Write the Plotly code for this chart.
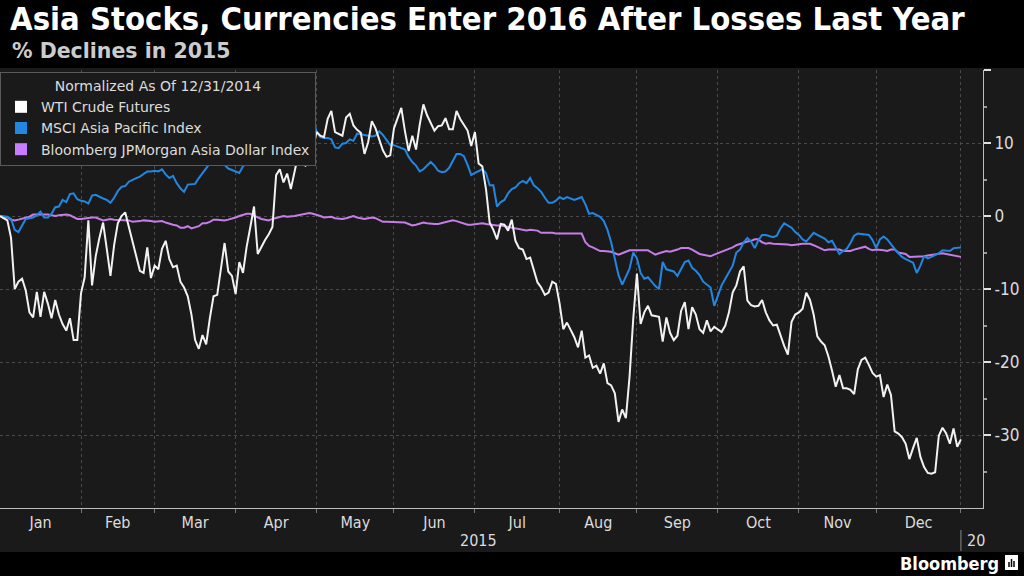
import pandas as pd
import plotly.graph_objects as go

# ---------------- data (normalized % change vs 12/31/2014, one value per weekday) ----------------
dates = pd.bdate_range("2014-12-31", "2015-12-31")

wti = [0, -0.3, -0.6, -3, -10, -9, -8.6, -10.2, -13.2, -13.9,
       -10.4, -13.8, -10.4, -12, -14, -11.5, -13.5, -14.8, -15.7, -14,
       -17, -17, -10.6, -8.4, -0.6, -9.5, -5.5, -3, -0.9, -4.5,
       -8.2, -4, -1, 0, 0.5, -1.5, -3.4, -5.5, -7.5, -7.8,
       -4.3, -8.5, -6.8, -7.3, -4.5, -3.4, -5.9, -7, -6.8, -9,
       -9.8, -11, -13.5, -17, -18.2, -16.3, -17.6, -14, -11, -10.8,
       -7, -3.7, -7.6, -8.2, -10.7, -6.3, -7.8, -4.2, -1.5, 1.3,
       -5.2, -4.2, -3.3, -2.5, -1.5, 5.6, 6.4, 4.6, 5.8, 3.7,
       6, 8.4, 7.2, 6.9, 7.5, 9.7, 11.5, 11, 10.8, 13.3,
       14.4, 11.5, 11.2, 11, 13.5, 14, 12.4, 11.8, 11.4, 8.5,
       10.1, 13, 12, 10.5, 9, 8.1, 8.3, 12, 13.5, 14.8,
       11.6, 8.9, 11, 9.1, 12.5, 15.3, 13.8, 12.8, 11.7, 12.3,
       12.4, 13.4, 11.9, 11.9, 14.4, 13.3, 12.4, 11.7, 9.6, 11.5,
       7.2, 6.8, 3.7, -0.9, -1.9, -3.2, -1.1, -1.2, -2, -0.5,
       -3.4, -4.4, -4.6, -5.9, -5.7, -7.5, -9.1, -9.8, -10.8, -10.5,
       -9, -9.3, -12, -15.5, -14.6, -15.6, -16.6, -18, -15.7, -19.4,
       -19.1, -20.8, -20.5, -21.6, -20.2, -22.9, -23.2, -24.3, -28.2, -26.5,
       -27.7, -22, -14.1, -7.9, -14.8, -13.2, -12.3, -13.6, -13.7, -13.8,
       -17.2, -13.9, -16, -17, -16.4, -13, -11.8, -15.5, -12.5, -13.5,
       -15.5, -16, -14.3, -15.8, -15.2, -15.5, -15.9, -15, -13.2, -10.5,
       -9.5, -7.6, -6.9, -11.6, -12.2, -12.4, -12.3, -11.5, -13.2, -14.3,
       -15, -14.9, -16.5, -17.8, -19, -14.5, -13.5, -13.2, -12.7, -10.5,
       -11.5, -13.5, -16.5, -17.2, -17.7, -19.2, -21.2, -23.4, -21.8, -23.6,
       -23.6, -23.8, -24.4, -21, -19.7, -19.4, -20.4, -21.5, -22, -21.8,
       -24.8, -23.1, -24.5, -29.5, -29.8, -30.3, -31.2, -33.3, -31.8, -30.4,
       -33, -34.4, -35.2, -35.3, -35.1, -30.1, -29, -29.8, -31.2, -29.1,
       -31.6, -30.6]

msci = [0, 0, -0.1, -0.4, -1.9, -2.2, -1.2, -0.4, -0.3, -0.2,
        0.1, 0.6, -0.2, -0.2, 0.3, 1.2, 1.3, 2.2, 1.9, 3.0,
        3.1, 2.3, 2.1, 2.0, 1.7, 2.8, 2.9, 2.6, 2.4, 2.2,
        1.8, 2.5, 3.4, 4.0, 4.1, 4.7, 5.0, 5.2, 5.4, 5.8,
        6.1, 6.1, 6.2, 6.1, 6.4, 5.7, 5.2, 5.5, 4.5, 3.8,
        3.3, 4.3, 4.4, 4.4, 5.2, 5.9, 6.5, 7.2, 7.8, 8.0,
        8.1, 7.0, 6.5, 6.3, 6.1, 5.9, 6.8, 7.3, 7.6, 8.1,
        8.8, 9.8, 10.5, 10.8, 11.2, 11.8, 12.3, 12.0, 12.6, 13.0,
        12.8, 13.4, 13.8, 14.2, 14.0, 13.5, 11.5, 10.8, 10.7, 10.7,
        10.5, 9.4, 9.3, 9.9, 10.0, 10.5, 10.3, 11.3, 11.2, 11.1,
        10.9, 10.9, 11.0, 11.6, 11.1, 10.4, 9.7, 9.7, 9.5, 9.3,
        9.1, 8.1, 7.4, 6.9, 6.1, 6.4, 6.9, 7.4, 6.9, 6.2,
        6.0, 6.1, 6.6, 7.5, 8.5, 8.5, 8.2, 7.0, 5.6, 5.9,
        6.2, 6.4, 5.9, 4.2, 4.2, 1.3, 1.9, 2.2, 3.1, 3.7,
        3.9, 4.5, 4.8, 4.5, 5.2, 4.2, 3.8, 3.3, 2.5, 1.8,
        1.8, 2.1, 2.6, 2.3, 2.6, 2.4, 2.2, 2.4, 2.6, 1.6,
        0.3, 0.4, 0.1, -0.1, -0.7, -1.9, -3.6, -6.0, -8.1, -9.4,
        -8.4, -7.2, -5.0, -5.8, -7.8, -8.6, -8.4, -9.0, -9.6, -10.0,
        -6.3, -7.3, -7.5, -7.6, -8.2, -7.2, -6.3, -6.1, -7.1, -7.5,
        -8.1, -9.0, -9.4, -9.8, -12.3, -10.8, -9.5, -8.6, -7.6, -6.8,
        -5.0, -4.6, -3.6, -3.0, -3.5, -4.4, -3.3, -2.6, -2.6, -2.7,
        -2.9, -2.7, -1.7, -1.0, -1.3, -1.6, -2.2, -2.6, -3.2, -3.5,
        -2.9, -2.3, -2.6, -2.9, -3.1, -3.6, -3.4, -4.3, -5.2, -4.8,
        -4.5, -3.7, -2.7, -2.4, -2.5, -2.5, -2.6, -3.3, -4.4, -3.2,
        -2.8, -3.2, -3.9, -4.5, -5.1, -5.6, -5.9, -6.1, -6.4, -7.8,
        -6.8, -5.5, -5.8, -5.6, -5.4, -5.1, -4.7, -4.7, -4.8, -4.4,
        -4.4, -4.3]

adxy = [0, -0.1, -0.2, -0.5, -0.6, -0.5, -0.4, -0.2, -0.1, 0.2,
        0.2, 0.3, 0.3, 0.2, 0.1, 0.0, 0.1, 0.2, 0.2, 0.1,
        -0.1, -0.4, -0.4, -0.3, -0.3, -0.2, -0.2, -0.4, -0.6, -0.5,
        -0.4, -0.5, -0.5, -0.5, -0.5, -0.6, -0.8, -0.8, -0.7, -0.6,
        -0.6, -0.7, -0.8, -0.8, -0.7, -0.9, -1.1, -1.2, -1.3, -1.6,
        -1.6, -1.4, -1.7, -1.6, -1.4, -1.0, -1.0, -0.8, -0.5, -0.5,
        -0.6, -0.6, -0.5, -0.4, -0.2, 0.0, 0.2, 0.3, 0.3, 0.0,
        -0.2, -0.4, -0.5, -0.6, -0.4, -0.3, -0.1, 0.0, -0.1, -0.1,
        0.0, 0.1, 0.2, 0.3, 0.4, 0.3, 0.2, 0.0, -0.2, -0.1,
        -0.1, -0.3, -0.4, -0.4, -0.3, -0.1, 0.0, -0.2, -0.3, -0.4,
        -0.3, -0.2, -0.3, -0.5, -0.8, -0.8, -0.8, -0.9, -0.9, -0.8,
        -0.9, -1.1, -1.3, -1.2, -1.1, -0.9, -1.0, -1.1, -1.1, -1.1,
        -1.0, -0.8, -0.7, -0.6, -0.7, -0.9, -1.0, -1.2, -1.2, -1.1,
        -1.1, -1.0, -1.1, -1.2, -1.3, -1.3, -1.3, -1.4, -1.4, -1.6,
        -1.7, -1.8, -1.8, -2.0, -1.9, -1.9, -2.0, -2.3, -2.3, -2.2,
        -2.3, -2.4, -2.4, -2.4, -2.4, -2.4, -2.5, -2.5, -2.4, -3.6,
        -4.1, -4.3, -4.5, -4.8, -4.8, -4.8, -4.9, -5.1, -5.3, -5.1,
        -4.9, -4.7, -4.7, -4.7, -4.7, -4.7, -4.7, -5.0, -5.3, -5.1,
        -4.9, -4.8, -4.9, -4.8, -4.6, -4.4, -4.4, -4.4, -4.6, -4.9,
        -5.2, -5.3, -5.4, -5.5, -5.3, -5.1, -5.0, -4.8, -4.6, -4.3,
        -4.0, -3.8, -3.6, -3.5, -3.4, -3.2, -3.2, -3.6, -3.8, -3.7,
        -3.8, -3.8, -3.8, -3.8, -3.9, -4.0, -3.9, -3.9, -3.8, -3.8,
        -3.8, -4.0, -4.2, -4.5, -4.7, -4.6, -4.6, -4.5, -4.6, -4.8,
        -4.8, -4.8, -4.6, -4.5, -4.3, -4.2, -4.5, -4.7, -4.6, -4.6,
        -4.7, -4.8, -4.6, -4.6, -5.0, -5.1, -5.2, -5.6, -5.6, -5.5,
        -5.5, -5.5, -5.4, -5.3, -5.3, -5.2, -5.1, -5.2, -5.3, -5.4,
        -5.6, -5.6]

series_names = ["WTI Crude Futures", "MSCI Asia Pacific Index",
                "Bloomberg JPMorgan Asia Dollar Index"]
series_colors = ["#f2f2f2", "#2287e3", "#c77de8"]
legend_colors = ["#ffffff", "#2287e3", "#c77dff"]
month_labels = ["Jan", "Feb", "Mar", "Apr", "May", "Jun",
                "Jul", "Aug", "Sep", "Oct", "Nov", "Dec"]
year_labels = ["2015", "20"]
y_ticks = [-30, -20, -10, 0, 10, 20]
y_ticktext = ["-30", "-20", "-10", "0", "10", ""]
y_minor = [-35, -25, -15, -5, 5, 15]
title_text = "Asia Stocks, Currencies Enter 2016 After Losses Last Year"
subtitle_text = "% Declines in 2015"
legend_title = "Normalized As Of 12/31/2014"

FONT = "DejaVu Sans Condensed, Liberation Sans Narrow, DejaVu Sans, sans-serif"
WIDE = "DejaVu Sans, Verdana, sans-serif"
BG = "#1a1a1a"
GRID = "#4a4a4a"
TXT = "#dcdcdc"

# ---------------- month boundaries (last weekday of each month) ----------------
pos = pd.Series(range(len(dates)), index=dates)
last_idx = list(pos.groupby([dates.year, dates.month]).max().values)
bound_dates = [dates[k] for k in last_idx]
mid_dates = []
for a, b in zip(last_idx[:-1], last_idx[1:]):
    m = (a + b) / 2
    d = dates[int(m)]
    if m % 1:
        d = d + pd.Timedelta(hours=12)
    mid_dates.append(d)
fmt = lambda d: d.strftime("%Y-%m-%d %H:%M")

fig = go.Figure()
values = [wti, msci, adxy]
for k in [2, 1, 0]:
    fig.add_trace(go.Scatter(x=dates, y=values[k], mode="lines",
                             line=dict(color=series_colors[k], width=2),
                             name=series_names[k], showlegend=False,
                             hoverinfo="skip"))
for k in range(3):
    fig.add_trace(go.Scatter(x=[None], y=[None], mode="markers",
                             marker=dict(symbol="square", size=12, color=legend_colors[k]),
                             name=series_names[k], showlegend=True))

W, H = 1024, 576
L, R, T, B = 0, 41, 70, 68
ph = H - T - B
pw = W - L - R
py = lambda px: (H - B - px) / ph      # pixel row -> paper y
pxx = lambda px: (px - L) / pw         # pixel col -> paper x

fig.update_layout(
    width=W, height=H,
    margin=dict(l=L, r=R, t=T, b=B, pad=0),
    paper_bgcolor="#000000",
    plot_bgcolor=BG,
    font=dict(family=FONT, color=TXT, size=14),
    hovermode=False,
    title=dict(text="<b>" + title_text + "</b>", x=10 / W, xref="container",
               xanchor="left", y=1 - 19 / H, yref="container", yanchor="middle",
               font=dict(size=32.5, color="#ffffff", family=FONT)),
    showlegend=True,
    legend=dict(x=0, y=py(72), xanchor="left", yanchor="top",
                bgcolor=BG, bordercolor="#5a5a5a", borderwidth=1,
                font=dict(size=14, color=TXT, family=WIDE),
                title=dict(text=legend_title, side="top center",
                           font=dict(size=14, color=TXT, family=WIDE)),
                itemwidth=30, tracegroupgap=0, traceorder="normal"),
    xaxis=dict(type="date", range=["2014-12-31", "2016-01-08"],
               rangebreaks=[dict(bounds=["sat", "mon"])],
               tickmode="array", tickvals=[fmt(d) for d in mid_dates],
               ticktext=month_labels, ticks="", showgrid=False,
               tickfont=dict(size=16, color=TXT),
               showline=True, linecolor="#bdbdbd", linewidth=1,
               zeroline=False, fixedrange=True,
               minor=dict(tickmode="array", tickvals=[fmt(d) for d in bound_dates[1:]],
                          showgrid=True, gridcolor=GRID, griddash="dot", gridwidth=1,
                          ticks="outside", ticklen=4, tickcolor="#777")),
    yaxis=dict(side="right", range=[-40, 20], tickmode="array",
               tickvals=y_ticks, ticktext=y_ticktext,
               showgrid=True, gridcolor=GRID, griddash="dot", gridwidth=1,
               zeroline=False, showline=True, linecolor="#bdbdbd", linewidth=1,
               ticks="outside", ticklen=7, tickwidth=2, tickcolor="#e0e0e0",
               tickfont=dict(size=17, color=TXT), fixedrange=True,
               minor=dict(tickmode="array", tickvals=y_minor, ticks="outside",
                          ticklen=3, tickcolor="#9a9a9a", showgrid=False)),
)

# dark panel behind plot + axis labels
fig.add_shape(type="rect", xref="paper", yref="paper", x0=pxx(0), x1=pxx(W),
              y0=py(552), y1=py(68), fillcolor=BG, line=dict(width=0), layer="below")
# year separator
fig.add_shape(type="line", xref="x", yref="paper", x0=fmt(bound_dates[-1]),
              x1=fmt(bound_dates[-1]), y0=py(530), y1=py(551),
              line=dict(color="#8a8a8a", width=1))

fig.add_annotation(text="<b>" + subtitle_text + "</b>", xref="paper", yref="paper",
                   x=pxx(10), y=py(51), xanchor="left", yanchor="middle",
                   showarrow=False, font=dict(size=20.5, color="#cccccc", family=WIDE))
fig.add_annotation(text=year_labels[0], xref="x", yref="paper",
                   x="2015-07-01", y=py(540), xanchor="center", yanchor="middle",
                   showarrow=False, font=dict(size=16, color=TXT))
fig.add_annotation(text=year_labels[1], xref="x", yref="paper",
                   x="2016-01-01", y=py(540), xanchor="left", yanchor="middle",
                   showarrow=False, font=dict(size=16, color=TXT))
fig.add_annotation(text="<b>Bloomberg</b>", xref="paper", yref="paper",
                   x=pxx(1001), y=py(563), xanchor="right", yanchor="middle",
                   showarrow=False, font=dict(size=18, color="#ffffff", family=FONT))
# logo glyph
fig.add_shape(type="rect", xref="paper", yref="paper", x0=pxx(1005), x1=pxx(1018),
              y0=py(570), y1=py(555), fillcolor="#ffffff", line=dict(width=0))
for bx, top in [(1009, 562), (1011.5, 559), (1014, 561)]:
    fig.add_shape(type="line", xref="paper", yref="paper", x0=pxx(bx), x1=pxx(bx),
                  y0=py(567), y1=py(top), line=dict(color="#000000", width=1.5))

fig.write_html("out.html")
